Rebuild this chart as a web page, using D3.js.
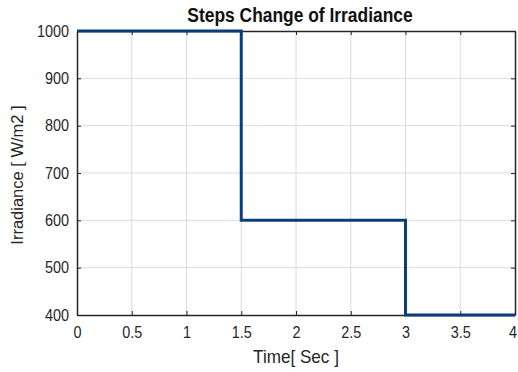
<!DOCTYPE html>
<html><head><meta charset="utf-8">
<script src="https://cdn.jsdelivr.net/npm/d3@7"></script>
<style>body{margin:0;background:#fff}svg{display:block}</style>
</head><body><svg id="c" width="518" height="372"></svg>
<script>
const stepTimes = [0, 1.5, 3, 4];
const irradiance = [1000, 600, 400, 400];
const xTicks = [0, 0.5, 1, 1.5, 2, 2.5, 3, 3.5, 4];
const yTicks = [400, 500, 600, 700, 800, 900, 1000];
const titleText = "Steps Change of Irradiance";
const xLabel = "Time[ Sec ]";
const yLabel = "Irradiance [ W/m2 ]";

const svg = d3.select("#c");
const L = 77, R = 515, T = 31, B = 315;
const x = d3.scaleLinear().domain([0, 4]).range([L, R]);
const y = d3.scaleLinear().domain([400, 1000]).range([B, T]);
const font = "Liberation Sans, Arial, sans-serif";

function squeeze(sel, f) {
  sel.each(function () {
    const w = this.getComputedTextLength();
    if (w > 0) d3.select(this).attr("textLength", w * f).attr("lengthAdjust", "spacingAndGlyphs");
  });
}

svg.append("rect").attr("x", 0).attr("y", 0).attr("width", 518).attr("height", 372).attr("fill", "#fff");

// grid
const g = svg.append("g");
g.selectAll(".gx").data(xTicks.slice(1, -1)).join("line")
  .attr("x1", d => x(d)).attr("x2", d => x(d)).attr("y1", T).attr("y2", B)
  .attr("stroke", "#dcdcdc").attr("stroke-width", 1);
g.selectAll(".gy").data(yTicks.slice(1, -1)).join("line")
  .attr("y1", d => y(d)).attr("y2", d => y(d)).attr("x1", L).attr("x2", R)
  .attr("stroke", "#dcdcdc").attr("stroke-width", 1);

// axes with inward ticks
const fmt = d3.format("");
const xAxis = svg.append("g").attr("transform", `translate(0,${B})`)
  .call(d3.axisBottom(x).tickValues(xTicks).tickFormat(fmt).tickSizeInner(-4).tickSizeOuter(0).tickPadding(12));
const xAxisTop = svg.append("g").attr("transform", `translate(0,${T})`)
  .call(d3.axisTop(x).tickValues(xTicks).tickFormat("").tickSizeInner(-4).tickSizeOuter(0));
const yAxis = svg.append("g").attr("transform", `translate(${L},0)`)
  .call(d3.axisLeft(y).tickValues(yTicks).tickFormat(fmt).tickSizeInner(-4).tickSizeOuter(0).tickPadding(8));
const yAxisR = svg.append("g").attr("transform", `translate(${R},0)`)
  .call(d3.axisRight(y).tickValues(yTicks).tickFormat("").tickSizeInner(-4).tickSizeOuter(0));
[xAxis, xAxisTop, yAxis, yAxisR].forEach(a => {
  a.selectAll(".domain").attr("stroke", "#262626").attr("stroke-width", 1.5);
  a.selectAll(".tick line").attr("stroke", "#262626");
  a.selectAll("text").attr("font-family", font).attr("font-size", 16).attr("fill", "#262626");
});
squeeze(xAxis.selectAll("text"), 0.9);
squeeze(yAxis.selectAll("text"), 0.9);
xAxis.selectAll(".tick text").filter(d => d === 4).attr("dx", -2.5);

// line
const line = d3.line().x((d, i) => x(stepTimes[i])).y(d => y(d)).curve(d3.curveStepAfter);
svg.append("path").datum(irradiance).attr("d", line)
  .attr("fill", "none").attr("stroke", "#0b3d7d").attr("stroke-width", 3);

// labels
const t = svg.append("text").attr("x", 300).attr("y", 22).attr("text-anchor", "middle")
  .attr("font-family", font).attr("font-size", 20).attr("font-weight", "bold").attr("fill", "#111").text(titleText);
squeeze(t, 0.87);
const xl = svg.append("text").attr("x", 296).attr("y", 363).attr("text-anchor", "middle")
  .attr("font-family", font).attr("font-size", 19).attr("fill", "#262626").text(xLabel);
squeeze(xl, 0.9);
svg.append("text").attr("transform", `translate(23,175) rotate(-90)`).attr("text-anchor", "middle")
  .attr("font-family", font).attr("font-size", 16.5).attr("fill", "#262626").text(yLabel);
</script></body></html>
